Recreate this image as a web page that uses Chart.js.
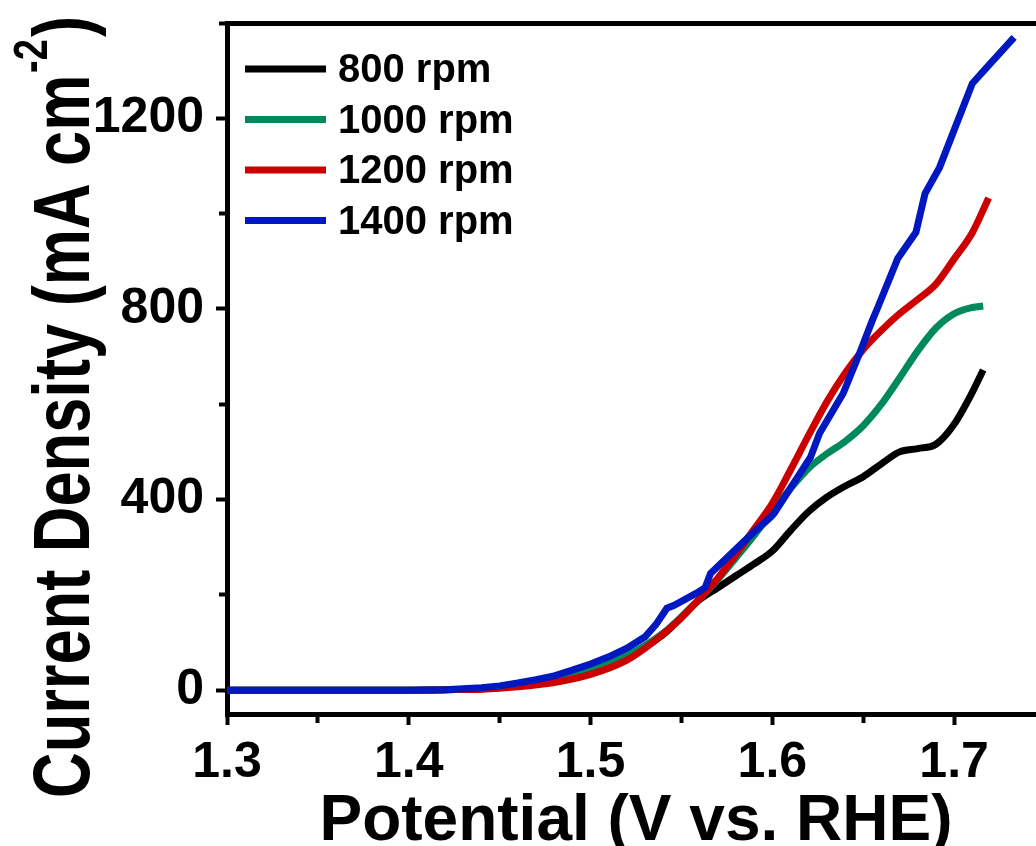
<!DOCTYPE html>
<html>
<head>
<meta charset="utf-8">
<title>LSV at different rotation speeds</title>
<script src="https://cdn.jsdelivr.net/npm/chart.js@4.4.1/dist/chart.umd.min.js"></script>
<style>
    html, body {
        margin: 0;
        padding: 0;
        background: #ffffff;
        overflow: hidden;
    }
    #wrap {
        width: 1060px;
        height: 846px;
    }
</style>
</head>
<body>
<div id="wrap"><canvas id="lsvChart" width="1060" height="846"></canvas></div>
<script>
const FONT = '"Liberation Sans", Arial, Helvetica, sans-serif';

// series labels + colours
const seriesLabels = ['800 rpm', '1000 rpm', '1200 rpm', '1400 rpm'];
const seriesColors = ['#000000', '#008A5B', '#CD0000', '#0018BF'];

// potential (V vs. RHE) / current density (mA cm-2)
const pot800 = [1.30, 1.35, 1.40, 1.42, 1.44, 1.46, 1.48, 1.50, 1.52, 1.54, 1.56, 1.57, 1.58, 1.59, 1.60, 1.61, 1.62, 1.63, 1.64, 1.65, 1.66, 1.67, 1.68, 1.69, 1.70, 1.71, 1.716];
const cur800 = [0, 0, 0, 1, 3, 10, 22, 40, 70, 117, 190, 215, 240, 265, 292, 335, 375, 405, 428, 448, 475, 500, 507, 516, 558, 625, 672];

const pot1000 = [1.30, 1.35, 1.40, 1.42, 1.44, 1.46, 1.48, 1.50, 1.52, 1.54, 1.56, 1.57, 1.58, 1.59, 1.60, 1.61, 1.62, 1.63, 1.64, 1.65, 1.66, 1.67, 1.68, 1.69, 1.70, 1.71, 1.716];
const cur1000 = [0, 0, 0, 1, 3, 11, 24, 43, 73, 120, 192, 232, 278, 325, 376, 423, 466, 496, 522, 555, 600, 655, 712, 760, 790, 803, 806];

const pot1200 = [1.30, 1.35, 1.40, 1.42, 1.44, 1.46, 1.48, 1.50, 1.52, 1.53, 1.54, 1.55, 1.56, 1.57, 1.58, 1.59, 1.60, 1.61, 1.62, 1.63, 1.64, 1.65, 1.66, 1.67, 1.68, 1.69, 1.70, 1.71, 1.719];
const cur1200 = [0, 0, 0, 1, 2, 7, 16, 33, 63, 88, 118, 152, 192, 235, 285, 338, 392, 462, 535, 605, 665, 715, 755, 790, 820, 852, 905, 960, 1033];

const pot1400 = [1.30, 1.40, 1.42, 1.44, 1.45, 1.46, 1.47, 1.48, 1.49, 1.50, 1.51, 1.52, 1.53, 1.536, 1.542, 1.546, 1.558, 1.563, 1.566, 1.586, 1.599, 1.601, 1.621, 1.626, 1.639, 1.648, 1.655, 1.658, 1.669, 1.679, 1.684, 1.692, 1.710, 1.718, 1.733];
const cur1400 = [0, 0, 1, 5, 9, 15, 22, 30, 42, 55, 70, 88, 112, 138, 172, 178, 203, 215, 245, 318, 363, 371, 489, 539, 623, 707, 776, 803, 906, 961, 1042, 1097, 1273, 1307, 1370];

// axes
const xMin = 1.3;
const xMax = 1.75;
const yMin = -50;
const yMax = 1400;
const xMajorTicks = [1.3, 1.4, 1.5, 1.6, 1.7];
const xMinorTicks = [1.35, 1.45, 1.55, 1.65, 1.75];
const yMajorTicks = [0, 400, 800, 1200];
const yMinorTicks = [200, 600, 1000, 1400];

const xTitle = 'Potential (V vs. RHE)';
const yTitleMain = 'Current Density (mA cm';
const yTitleSup = '-2';
const yTitleEnd = ')';

function toPoints(xs, ys) {
    return xs.map((x, i) => ({ x: x, y: ys[i] }));
}

// stepSize gets rounded oddly with these bounds, so hand the values over directly
function fixedTicks(values) {
    return (scale) => {
        scale.ticks = values.map(v => ({ value: v }));
    };
}

// y title is drawn by hand because of the superscript and the narrow face
const yTitlePlugin = {
    id: 'yTitle',
    afterDraw(chart) {
        const ctx = chart.ctx;
        ctx.save();
        ctx.translate(89, 798);
        ctx.rotate(-Math.PI / 2);
        ctx.scale(0.79, 1);
        ctx.fillStyle = '#000000';
        ctx.textBaseline = 'alphabetic';
        ctx.textAlign = 'left';
        ctx.font = 'bold 80px ' + FONT;
        ctx.fillText(yTitleMain, 0, 0);
        let w = ctx.measureText(yTitleMain).width + 2;
        ctx.font = 'bold 48px ' + FONT;
        ctx.fillText(yTitleSup, w, -42);
        w += ctx.measureText(yTitleSup).width + 3;
        ctx.font = 'bold 80px ' + FONT;
        ctx.fillText(yTitleEnd, w, 0);
        ctx.restore();
    }
};

// legend sits inside the plot, top left
const insideLegend = {
    id: 'insideLegend',
    afterDatasetsDraw(chart) {
        const ctx = chart.ctx;
        const area = chart.chartArea;
        ctx.save();
        ctx.font = 'bold 40px ' + FONT;
        ctx.textBaseline = 'middle';
        ctx.textAlign = 'left';
        chart.data.datasets.forEach((ds, i) => {
            const y = area.top + 46 + i * 50.5;
            ctx.strokeStyle = ds.borderColor;
            ctx.lineWidth = 7;
            ctx.beginPath();
            ctx.moveTo(area.left + 18, y);
            ctx.lineTo(area.left + 99, y);
            ctx.stroke();
            ctx.fillStyle = '#000000';
            ctx.fillText(ds.label, area.left + 111, y + 2);
        });
        ctx.restore();
    }
};

function makeDataset(i, xs, ys, smooth) {
    return {
        label: seriesLabels[i],
        data: toPoints(xs, ys),
        borderColor: seriesColors[i],
        backgroundColor: seriesColors[i],
        borderWidth: 7,
        pointRadius: 0,
        fill: false,
        tension: 0,
        cubicInterpolationMode: smooth ? 'monotone' : 'default',
        order: 4 - i,
        xAxisID: 'x',
        yAxisID: 'y'
    };
}

function renderChart() {
    const ctx = document.getElementById('lsvChart').getContext('2d');
    Chart.defaults.font.family = FONT;
    Chart.defaults.color = '#000000';

    new Chart(ctx, {
        type: 'line',
        data: {
            datasets: [
                makeDataset(0, pot800, cur800, true),
                makeDataset(1, pot1000, cur1000, true),
                makeDataset(2, pot1200, cur1200, true),
                makeDataset(3, pot1400, cur1400, false)
            ]
        },
        options: {
            responsive: false,
            animation: false,
            layout: {
                padding: { left: 0, top: 23, right: 15, bottom: 0 }
            },
            plugins: {
                legend: { display: false },
                tooltip: { enabled: false }
            },
            scales: {
                x: {
                    type: 'linear',
                    position: 'bottom',
                    min: xMin,
                    max: xMax,
                    afterBuildTicks: fixedTicks(xMajorTicks),
                    afterFit: (scale) => {
                        scale.height = 132;
                        scale.paddingLeft = 0;
                        scale.paddingRight = 0;
                    },
                    border: { display: true, color: '#000000', width: 5 },
                    grid: { drawOnChartArea: false, drawTicks: true, tickLength: 11, tickWidth: 4, color: '#000000' },
                    ticks: {
                        padding: 8,
                        maxRotation: 0,
                        autoSkip: false,
                        font: { size: 50, weight: 'bold' },
                        callback: (v) => Number(v).toFixed(1)
                    },
                    title: {
                        display: true,
                        text: xTitle,
                        font: { size: 64, weight: 'bold', lineHeight: 1 },
                        padding: { top: 0, bottom: -8 }
                    }
                },
                y: {
                    type: 'linear',
                    position: 'left',
                    min: yMin,
                    max: yMax,
                    afterBuildTicks: fixedTicks(yMajorTicks),
                    afterFit: (scale) => {
                        scale.width = 227;
                        scale.paddingTop = 0;
                        scale.paddingBottom = 0;
                    },
                    border: { display: true, color: '#000000', width: 5 },
                    grid: { drawOnChartArea: false, drawTicks: true, tickLength: 11, tickWidth: 4, color: '#000000' },
                    ticks: {
                        padding: 12,
                        autoSkip: false,
                        font: { size: 50, weight: 'bold' },
                        callback: (v) => String(v)
                    }
                },
                // minor ticks, hung on the axis lines
                xMinor: {
                    axis: 'x',
                    type: 'linear',
                    position: { y: yMin },
                    min: xMin,
                    max: xMax,
                    afterBuildTicks: fixedTicks(xMinorTicks),
                    border: { display: true, color: '#000000', width: 5 },
                    grid: { drawOnChartArea: false, drawTicks: true, tickLength: 6, tickWidth: 4, color: '#000000' },
                    ticks: { display: false }
                },
                yMinor: {
                    axis: 'y',
                    type: 'linear',
                    position: { x: xMin },
                    min: yMin,
                    max: yMax,
                    afterBuildTicks: fixedTicks(yMinorTicks),
                    border: { display: true, color: '#000000', width: 5 },
                    grid: { drawOnChartArea: false, drawTicks: true, tickLength: 6, tickWidth: 4, color: '#000000' },
                    ticks: { display: false }
                },
                // top frame line
                xTop: {
                    axis: 'x',
                    type: 'linear',
                    position: { y: yMax },
                    min: xMin,
                    max: xMax,
                    border: { display: true, color: '#000000', width: 5 },
                    grid: { display: false, drawTicks: false },
                    ticks: { display: false }
                }
            }
        },
        plugins: [yTitlePlugin, insideLegend]
    });
}

document.addEventListener('DOMContentLoaded', renderChart);
</script>
</body>
</html>
